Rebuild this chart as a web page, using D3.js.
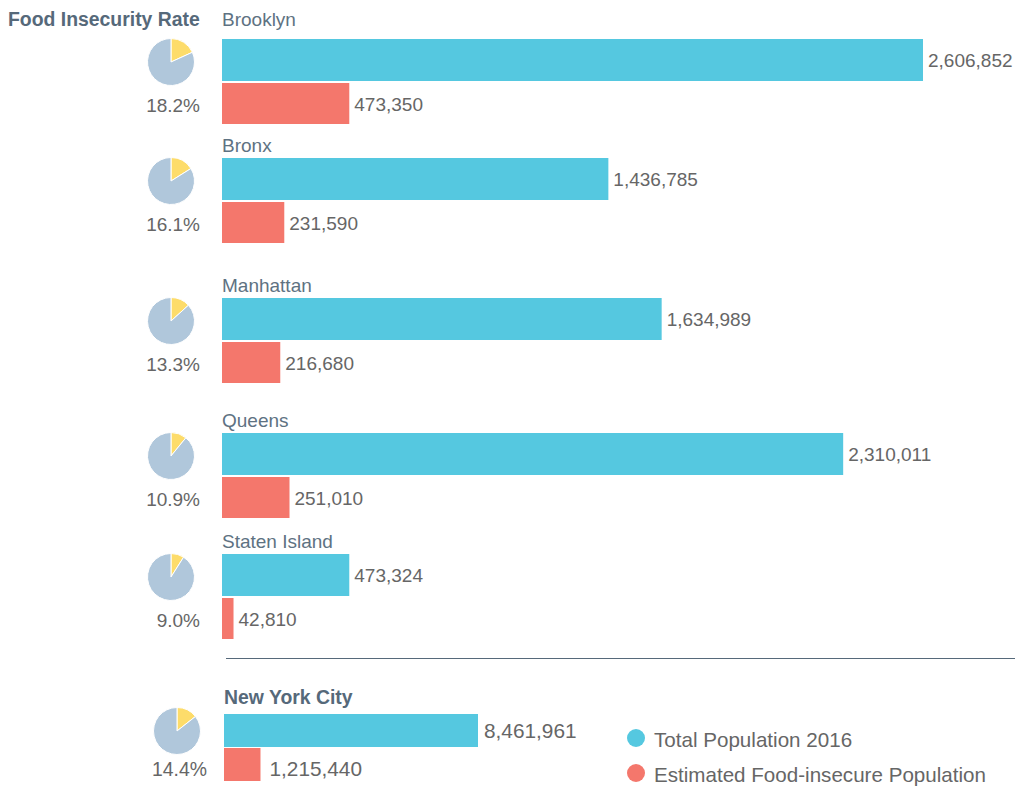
<!DOCTYPE html>
<html>
<head>
<meta charset="utf-8">
<script src="https://cdn.jsdelivr.net/npm/d3@7"></script>
<style>
  body { margin: 0; background: #fff; }
  svg text { font-family: "Liberation Sans", Arial, sans-serif; }
</style>
</head>
<body>
<svg id="viz"></svg>
<script>
// 1. Data
const boroughs = ["Brooklyn", "Bronx", "Manhattan", "Queens", "Staten Island"];
const totalPop = [2606852, 1436785, 1634989, 2310011, 473324];
const insecurePop = [473350, 231590, 216680, 251010, 42810];
const rates = [18.2, 16.1, 13.3, 10.9, 9.0];

const cityName = "New York City";
const cityTotal = 8461961;
const cityInsecure = 1215440;
const cityRate = 14.4;

const legendLabels = ["Total Population 2016", "Estimated Food-insecure Population"];

// 2. Layout
const width = 1016, height = 786;
const rowTop = [39, 158, 298, 433, 554];
const barH = 42, gap = 2;
const cityTop = 714, cityBarH = 33;

const colTotal = "#55c8e0", colInsecure = "#f4776c";
const pieBase = "#b0c7db", pieSlice = "#fddc6a";
const numCol = "#666";

const svg = d3.select("#viz").attr("width", width).attr("height", height);

// 3. Scales
const x = d3.scaleLinear().domain([0, d3.max(totalPop)]).range([222, 923]);
const xCity = d3.scaleLinear().domain([0, cityTotal]).range([224, 478]);

const fmt = d3.format(",");
const pie = d3.pie().sort(null);
const arc = d3.arc().innerRadius(0).outerRadius(23.5);

function drawPie(g, rate, cx, cy) {
  g.append("g")
    .attr("transform", `translate(${cx},${cy})`)
    .selectAll("path")
    .data(pie([rate, 100 - rate]))
    .join("path")
    .attr("d", arc)
    .attr("fill", (d, i) => i === 0 ? pieSlice : pieBase)
    .attr("stroke", "#fff")
    .attr("stroke-width", 1);
}

// 4. Title
svg.append("text")
  .attr("x", 8).attr("y", 26)
  .attr("font-size", 19.4).attr("font-weight", "bold")
  .attr("fill", "#56697a")
  .text("Food Insecurity Rate");

// 5. Borough rows
const rows = svg.selectAll("g.row")
  .data(boroughs.map((b, i) => ({ name: b, total: totalPop[i], insecure: insecurePop[i], rate: rates[i], top: rowTop[i] })))
  .join("g").attr("class", "row");

rows.append("text")
  .attr("x", 222).attr("y", d => d.top - (d.name === "Brooklyn" ? 13 : 6))
  .attr("font-size", 19).attr("fill", "#5e7282")
  .text(d => d.name);

rows.append("rect")
  .attr("x", x(0)).attr("y", d => d.top)
  .attr("width", d => x(d.total) - x(0)).attr("height", barH)
  .attr("fill", colTotal);

rows.append("rect")
  .attr("x", x(0)).attr("y", d => d.top + barH + gap)
  .attr("width", d => x(d.insecure) - x(0)).attr("height", barH - 1)
  .attr("fill", colInsecure);

rows.append("text")
  .attr("x", d => x(d.total) + 5).attr("y", d => d.top + barH / 2 + 7)
  .attr("font-size", 19).attr("fill", numCol)
  .text(d => fmt(d.total));

rows.append("text")
  .attr("x", d => x(d.insecure) + 5).attr("y", d => d.top + barH + gap + barH / 2 + 7)
  .attr("font-size", 19).attr("fill", numCol)
  .text(d => fmt(d.insecure));

rows.each(function(d) {
  drawPie(d3.select(this), d.rate, 171, d.top + barH / 2 + 2);
});

rows.append("text")
  .attr("x", 200).attr("y", d => d.top + barH + gap + barH / 2 + 8)
  .attr("text-anchor", "end")
  .attr("font-size", 19).attr("fill", numCol)
  .text(d => d.rate.toFixed(1) + "%");

// 6. Divider
svg.append("line")
  .attr("x1", 226).attr("x2", 1015).attr("y1", 658.5).attr("y2", 658.5)
  .attr("stroke", "#56697a").attr("stroke-width", 1);

// 7. New York City row
const city = svg.append("g");
city.append("text")
  .attr("x", 224).attr("y", 704)
  .attr("font-size", 19.4).attr("font-weight", "bold").attr("fill", "#56697a")
  .text(cityName);
city.append("rect")
  .attr("x", xCity(0)).attr("y", cityTop)
  .attr("width", xCity(cityTotal) - xCity(0)).attr("height", cityBarH)
  .attr("fill", colTotal);
city.append("rect")
  .attr("x", xCity(0)).attr("y", cityTop + cityBarH + 1)
  .attr("width", xCity(cityInsecure) - xCity(0)).attr("height", cityBarH)
  .attr("fill", colInsecure);
city.append("text")
  .attr("x", xCity(cityTotal) + 6).attr("y", cityTop + cityBarH / 2 + 7)
  .attr("font-size", 20.8).attr("fill", numCol)
  .text(fmt(cityTotal));
city.append("text")
  .attr("x", xCity(cityInsecure) + 9).attr("y", 776)
  .attr("font-size", 20.8).attr("fill", numCol)
  .text(fmt(cityInsecure));
drawPie(city, cityRate, 177, 731);
city.append("text")
  .attr("x", 207).attr("y", 776)
  .attr("text-anchor", "end")
  .attr("font-size", 19.4).attr("fill", numCol)
  .text(cityRate.toFixed(1) + "%");

// 8. Legend
const legend = svg.selectAll("g.legend")
  .data(legendLabels)
  .join("g").attr("class", "legend")
  .attr("transform", (d, i) => `translate(636,${738 + i * 35})`);
legend.append("circle").attr("r", 9)
  .attr("fill", (d, i) => i === 0 ? colTotal : colInsecure);
legend.append("text")
  .attr("x", 18).attr("y", 9)
  .attr("font-size", 20.6).attr("fill", numCol)
  .text(d => d);
</script>
</body>
</html>
